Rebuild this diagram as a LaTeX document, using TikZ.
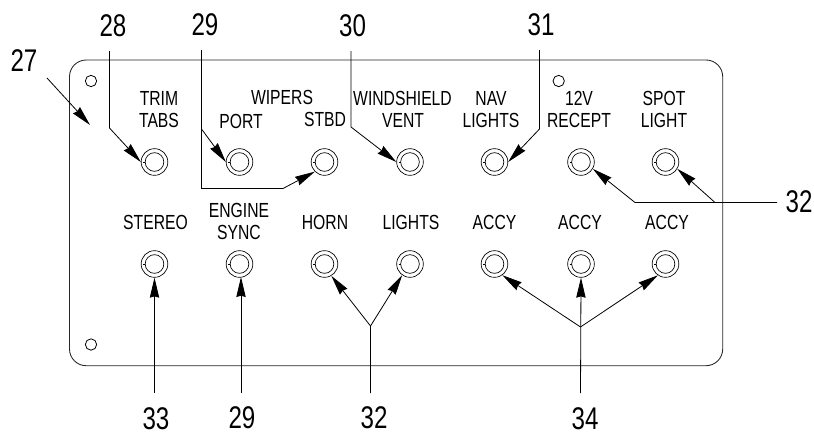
\documentclass[tikz,border=0pt]{standalone}
\usepackage{fontspec}
\setmainfont[FakeStretch=0.77]{Liberation Sans}
\usetikzlibrary{arrows.meta}
\tikzset{
  leader/.style={draw=black,line width=0.6pt},
  lead/.style={leader,-{Stealth[length=15pt,width=7pt,inset=1pt]}},
  socket/.style={circle,draw=black,line width=0.5pt,minimum size=20pt,inner sep=0pt,fill=white,
    path picture={
      \draw[line width=0.5pt] (path picture bounding box.center) circle (7pt);
      \draw[line width=0.5pt] ([xshift=-8.6pt]path picture bounding box.center) -- ++(1.6pt,0);
    }},
  hole/.style={circle,draw=black,line width=0.6pt,minimum size=8.5pt,inner sep=0pt},
  lbl/.style={font=\fontsize{15.3}{15.3}\selectfont,inner sep=0pt,text=black},
  num/.style={font=\fontsize{23.5}{23.5}\selectfont,inner sep=0pt,text=black},
}
\begin{document}
\begin{tikzpicture}[x=0.75pt,y=-0.75pt]
\useasboundingbox (0,0) rectangle (814,436);
% panel
\draw[line width=0.65pt,draw=black!85,rounded corners=12.5pt] (69.5,60) -- (722.7,60) -- (722.7,365.7) -- (69.5,365.7) -- cycle;
\node[hole] (h1) at (91,81) {};
\node[hole] (h2) at (558.7,81) {};
\node[hole] (h3) at (91,344.5) {};
% sockets
\node[socket] (a1) at (154.5,162) {};
\node[socket] (a2) at (239.5,162) {};
\node[socket] (a3) at (324.5,162) {};
\node[socket] (a4) at (410,162) {};
\node[socket] (a5) at (494.5,162) {};
\node[socket] (a6) at (581,162) {};
\node[socket] (a7) at (665.5,162) {};
\node[socket] (b1) at (154.5,264) {};
\node[socket] (b2) at (239.5,264) {};
\node[socket] (b3) at (324.5,264) {};
\node[socket] (b4) at (410,264) {};
\node[socket] (b5) at (494.5,264) {};
\node[socket] (b6) at (581,264) {};
\node[socket] (b7) at (665.5,264) {};
% labels
\node[lbl] (l1) at (159,98) {TRIM};
\node[lbl] (l2) at (159,120) {TABS};
\node[lbl] (l3) at (282,97) {WIPERS};
\node[lbl] (l4) at (241,121) {PORT};
\node[lbl] (l5) at (325,119) {STBD};
\node[lbl] (l6) at (402.5,98) {WINDSHIELD};
\node[lbl] (l7) at (403,120) {VENT};
\node[lbl] (l8) at (491,98) {NAV};
\node[lbl] (l9) at (491,120) {LIGHTS};
\node[lbl] (l10) at (579,98) {12V};
\node[lbl] (l11) at (579,120) {RECEPT};
\node[lbl] (l12) at (664,98) {SPOT};
\node[lbl] (l13) at (664,120) {LIGHT};
\node[lbl] (l14) at (155.5,222) {STEREO};
\node[lbl] (l15) at (239,210) {ENGINE};
\node[lbl] (l16) at (239,232) {SYNC};
\node[lbl] (l17) at (325,222) {HORN};
\node[lbl] (l18) at (411,222) {LIGHTS};
\node[lbl] (l19) at (494.5,222) {ACCY};
\node[lbl] (l20) at (580,222) {ACCY};
\node[lbl] (l21) at (667,222) {ACCY};
% numbers
\node[num] (n27) at (24,61) {27};
\node[num] (n28) at (113,26) {28};
\node[num] (n29) at (205,25) {29};
\node[num] (n30) at (352.5,26) {30};
\node[num] (n31) at (541,25) {31};
\node[num] (n32r) at (799,202) {32};
\node[num] (n33) at (156,419) {33};
\node[num] (n29b) at (242,418) {29};
\node[num] (n32b) at (374,418) {32};
\node[num] (n34) at (585,419) {34};
% leader ends
\coordinate (c27a) at (47,78);
\coordinate (c27b) at (90,125);
\coordinate (c28) at (109.5,51);
\coordinate (c28k) at (109.5,128);
\coordinate (c29) at (201.5,50);
\coordinate (c29k) at (201.5,129);
\coordinate (c29j) at (201.5,188.5);
\coordinate (c29m) at (283,188.5);
\coordinate (c30) at (351,51);
\coordinate (c30k) at (351,127);
\coordinate (c31) at (539.5,50);
\coordinate (c31k) at (539.5,129);
\coordinate (c32r) at (777,202.5);
\coordinate (c32j) at (635,202.5);
\coordinate (c32k) at (715,202.5);
\coordinate (c33) at (154.5,393);
\coordinate (c29b) at (241,393);
\coordinate (c29t) at (241,277);
\coordinate (c32b) at (370.5,393);
\coordinate (c32y) at (370.5,326);
\coordinate (c34) at (580.5,393);
\coordinate (c34y) at (580.5,327);
% leaders
\draw[lead] (c27a) -- (c27b);
\draw[lead] (c28) -- (c28k) -- (a1.west);
\draw[lead] (c29) -- (c29k) -- (a2.west);
\draw[lead] (c29k) -- (c29j) -- (c29m) -- (a3.225);
\draw[lead] (c30) -- (c30k) -- (a4.west);
\draw[lead] (c31) -- (c31k) -- (a5.east);
\draw[lead] (c32r) -- (c32j) -- (a6.-30);
\draw[lead] (c32k) -- (a7.-30);
\draw[lead] (c33) -- (b1.south);
\draw[lead] (c29b) -- (c29t);
\draw[lead] (c32b) -- (c32y) -- (b3.-60);
\draw[lead] (c32y) -- (b4.-125);
\draw[lead] (c34) -- (b6.south);
\draw[lead] (c34y) -- (b5.-55);
\draw[lead] (c34y) -- (b7.-124);
\end{tikzpicture}
\end{document}
